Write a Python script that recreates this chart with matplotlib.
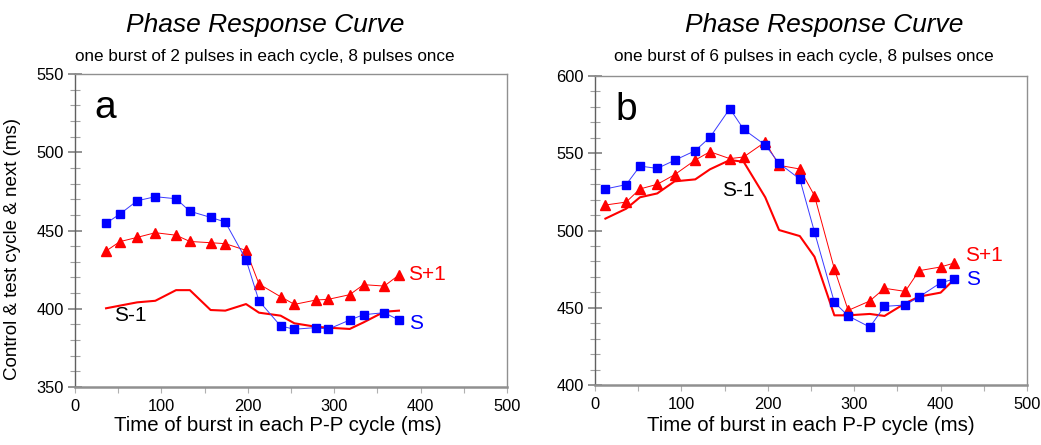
import matplotlib
matplotlib.use("Agg")
import matplotlib.pyplot as plt
from matplotlib.ticker import MultipleLocator

REG = ['Liberation Sans', 'DejaVu Sans']
plt.rcParams['font.family'] = REG

# ---- Panel a data ----
a_x = [36, 52, 72, 93, 117, 133, 157, 174, 198, 213, 238, 254, 279, 293, 318, 334, 358, 375]
a_S = [454.6, 460.5, 469, 471.6, 470.3, 462.3, 458.4, 455.4, 431.4, 405, 389, 386.9, 388, 386.9, 392.8, 396.2, 397.5, 392.8]
a_Sp1 = [436.9, 442.9, 445.6, 448.6, 447, 443, 442.2, 441.6, 437.3, 415.8, 407.7, 402.8, 405.6, 406, 409, 415.4, 414.5, 421.6]
a_Sm1 = [400.3, 402.0, 404.1, 405.1, 411.9, 411.9, 399.2, 398.8, 403, 397.5, 395.6, 390.7, 388.5, 387.9, 387.1, 391.3, 398.1, 398.8]

# ---- Panel b data ----
b_x = [12, 36, 52, 72, 92, 116, 133, 156, 172, 197, 213, 237, 254, 277, 293, 318, 335, 359, 375, 400, 416]
b_S = [526.9, 529.7, 541.7, 540.2, 545.4, 551.7, 560.3, 578.9, 565.5, 555.3, 543.5, 533.3, 499, 453.5, 444.7, 437.5, 450.9, 451.8, 457, 466.2, 468.6]
b_Sp1 = [516.5, 518.4, 526.9, 529.9, 536.1, 545.6, 551, 546.5, 547.6, 557.3, 542.2, 539.8, 522.5, 475.1, 448.3, 454.4, 462.6, 460.6, 474, 476.4, 479]
b_Sm1 = [507.7, 514.1, 521.5, 524, 531.8, 533.1, 539.6, 545.6, 544.5, 521.5, 500.3, 496.4, 483, 445.1, 445.1, 446, 444.7, 452.9, 457.2, 459.8, 468.6]

titles = ["Phase Response Curve", "Phase Response Curve"]
subtitles = ["one burst of 2 pulses in each cycle, 8 pulses once",
             "one burst of 6 pulses in each cycle, 8 pulses once"]
xlabel = "Time of burst in each P-P cycle (ms)"
ylabel = "Control & test cycle & next (ms)"

BLUE = '#0000ff'
RED = '#ff0000'
GRAY = '#808080'

fig = plt.figure(figsize=(10.41, 4.45), dpi=100)
axA = fig.add_axes([0.0720, 0.1303, 0.415, 0.7034])
axB = fig.add_axes([0.5716, 0.1348, 0.415, 0.6944])


def style(ax, ylim):
    ax.set_xlim(0, 500)
    ax.set_ylim(*ylim)
    ax.xaxis.set_major_locator(MultipleLocator(100))
    ax.xaxis.set_minor_locator(MultipleLocator(50))
    ax.yaxis.set_major_locator(MultipleLocator(50))
    ax.yaxis.set_minor_locator(MultipleLocator(10))
    ax.tick_params(axis='y', which='major', direction='inout', length=10, width=1.2, color=GRAY, pad=3)
    ax.tick_params(axis='y', which='minor', direction='inout', length=7, width=0.8, color='#a0a0a0')
    ax.tick_params(axis='x', which='both', direction='out', length=4, width=0.8, color='#b0b0b0', pad=4.5)
    for s in ax.spines.values():
        s.set_color('#909090')
        s.set_linewidth(1.0)
    ax.spines['left'].set_color('#606060')
    ax.spines['bottom'].set_color('#909090')
    ax.spines['bottom'].set_linewidth(1.8)
    for lab in ax.get_xticklabels() + ax.get_yticklabels():
        lab.set_fontsize(11.8)
    ax.set_xlabel(xlabel, fontsize=14.7, labelpad=1)


def draw(ax, x, S, Sp1, Sm1):
    ax.plot(x, Sm1, color=RED, lw=1.5, zorder=2)
    ax.plot(x, Sp1, color=RED, lw=0.7, marker='^', ms=6.5, mec=RED, mfc=RED, zorder=3)
    ax.plot(x, S, color='#3a3aff', lw=0.7, marker='s', ms=6, mec=BLUE, mfc=BLUE, zorder=4)


draw(axA, a_x, a_S, a_Sp1, a_Sm1)
draw(axB, b_x, b_S, b_Sp1, b_Sm1)
style(axA, (350, 550))
style(axB, (400, 600))
axA.xaxis.set_label_coords(0.469, -0.093)
axB.xaxis.set_label_coords(0.5, -0.101)
axA.set_ylabel(ylabel, fontsize=13.5)
axA.yaxis.set_label_coords(-0.125, 0.44)

axA.text(35, 522, 'a', fontsize=28, ha='center', va='baseline')
axB.text(36, 571.5, 'b', fontsize=28, ha='center', va='baseline')

axA.text(386, 421.9, 'S+1', color=RED, fontsize=15, va='center', ha='left')
axA.text(387, 390.6, 'S', color=BLUE, fontsize=15, va='center', ha='left')
axA.text(45.5, 395.4, 'S-1', color='black', fontsize=15, va='center', ha='left')
axB.text(428, 484.1, 'S+1', color=RED, fontsize=15, va='center', ha='left')
axB.text(429, 468, 'S', color=BLUE, fontsize=15, va='center', ha='left')
axB.text(147, 526.2, 'S-1', color='black', fontsize=15, va='center', ha='left')

for tx, sx, t, st in [(265 / 1041, 265 / 1041, titles[0], subtitles[0]),
                      (824 / 1041, 803.5 / 1041, titles[1], subtitles[1])]:
    fig.text(tx, 1 - 25 / 445, t, fontsize=19, style='italic', ha='center', va='center')
    fig.text(sx, 1 - 56 / 445, st, fontsize=12.3, ha='center', va='center')

fig.savefig('out.png', dpi=100)
